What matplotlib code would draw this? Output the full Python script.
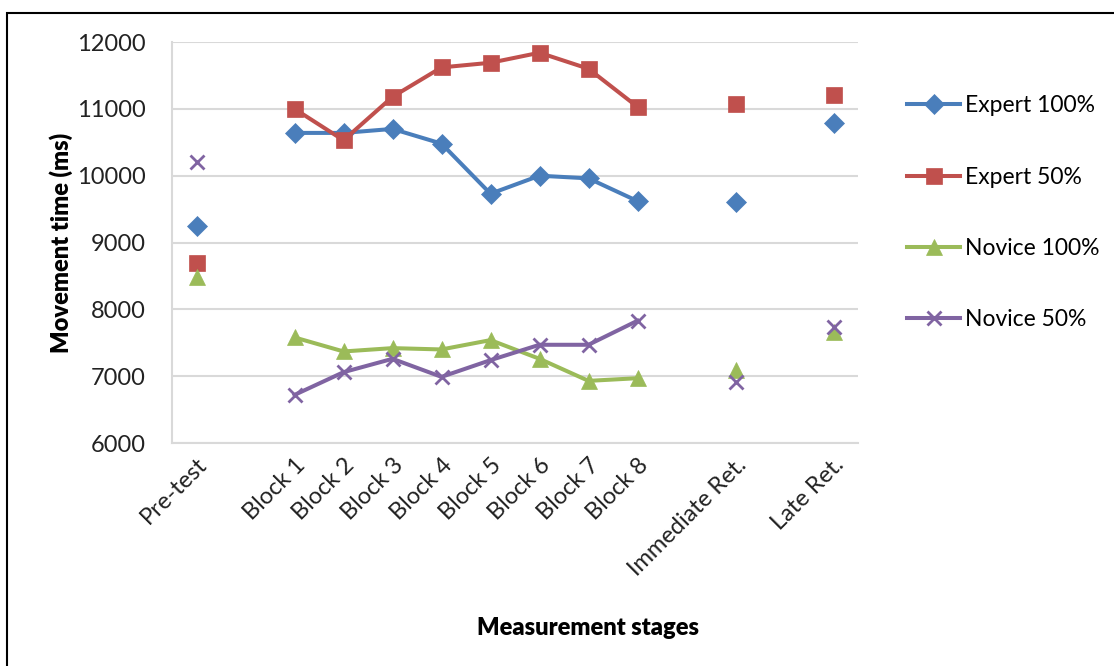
import numpy as np
import matplotlib.pyplot as plt
from matplotlib.patches import Rectangle

plt.rcParams["font.family"] = ["Lato", "DejaVu Sans"]

# empty strings are the gaps Excel leaves between the stage groups
stages = ["Pre-test", "", "Block 1", "Block 2", "Block 3", "Block 4", "Block 5",
          "Block 6", "Block 7", "Block 8", "", "Immediate Ret.", "", "Late Ret."]

expert_100 = [9250, None, 10640, 10640, 10700, 10480, 9730, 10000, 9960, 9620, None, 9600, None, 10790]
expert_50 = [8700, None, 11000, 10530, 11180, 11620, 11690, 11840, 11600, 11030, None, 11080, None, 11200]
novice_100 = [8480, None, 7580, 7370, 7420, 7400, 7540, 7260, 6930, 6970, None, 7100, None, 7660]
novice_50 = [10200, None, 6720, 7060, 7260, 6990, 7240, 7470, 7470, 7830, None, 6920, None, 7730]

series = [
    ("Expert 100%", expert_100, "#4A7EBB", "D", 10),
    ("Expert 50%", expert_50, "#C0504D", "s", 12),
    ("Novice 100%", novice_100, "#9BBB59", "^", 12),
    ("Novice 50%", novice_50, "#8064A2", "x", 10),
]

fig = plt.figure(figsize=(11.14, 6.66), dpi=100)
ax = fig.add_axes([0.1544, 0.3348, 0.6158, 0.6021])

x = np.arange(len(stages))
for name, vals, color, marker, ms in series:
    y = np.array([np.nan if v is None else v for v in vals], dtype=float)
    ax.plot(x, y, color=color, lw=2.9, marker=marker, markersize=ms,
            markeredgewidth=2 if marker == "x" else 0.5,
            markeredgecolor=color, label=name, zorder=3)

ax.set_xlim(-0.5, len(stages) - 0.5)
ax.set_ylim(6000, 12000)
ax.set_yticks(np.arange(6000, 12001, 1000))
ax.yaxis.grid(True, color="#D9D9D9", lw=1.5)
ax.set_axisbelow(True)

ax.set_xticks(x)
ax.set_xticklabels(stages, rotation=45, ha="right", rotation_mode="anchor")
ax.tick_params(axis="both", length=0, labelsize=17, colors="#222222")
ax.tick_params(axis="y", pad=19)
ax.tick_params(axis="x", pad=8)

for side in ["top", "right"]:
    ax.spines[side].set_visible(False)
ax.spines["left"].set_color("#D9D9D9")
ax.spines["left"].set_linewidth(1.5)
ax.spines["bottom"].set_color("#D9D9D9")
ax.spines["bottom"].set_linewidth(1.5)

ax.set_ylabel("Movement time (ms)", fontsize=17, fontweight="heavy", labelpad=3)
fig.text(0.528, 0.057, "Measurement stages", fontsize=17, fontweight="heavy",
         ha="center", va="center")

fig.legend(loc="upper left", bbox_to_anchor=(0.796, 0.888), frameon=False,
           fontsize=16.5, handlelength=2.3, handletextpad=0.2, labelspacing=2.2)

fig.patches.append(Rectangle((7 / 1114, -0.1), 1.2, 1.1 - 13 / 666,
                             transform=fig.transFigure, fill=False,
                             edgecolor="black", lw=1.5))

fig.savefig("out.png", dpi=100)
